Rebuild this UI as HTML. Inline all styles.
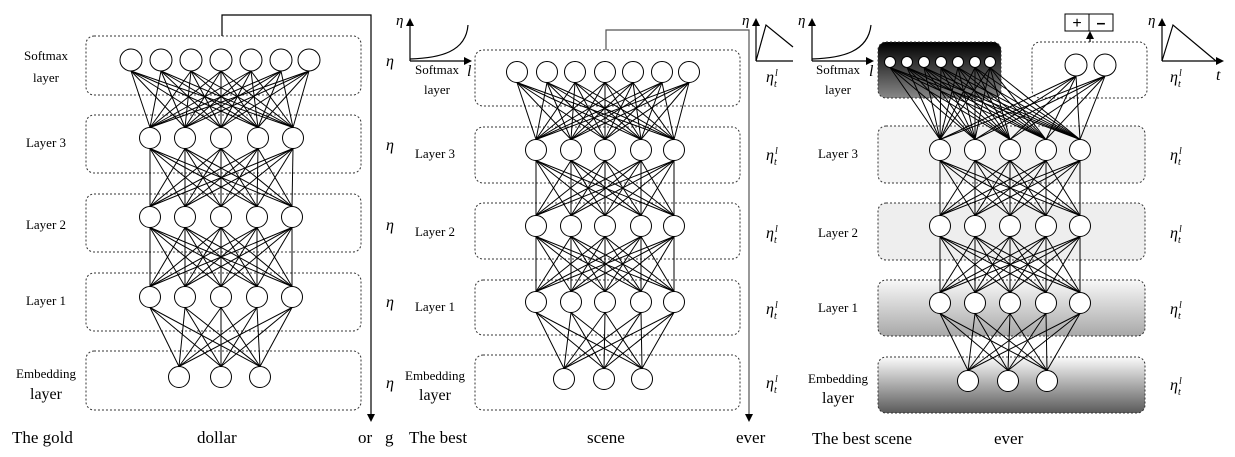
<!DOCTYPE html>
<html><head><meta charset="utf-8">
<style>
html,body{margin:0;padding:0;background:#fff;}
svg{display:block;font-family:"Liberation Serif",serif;}
</style></head>
<body>
<svg id="s" width="1235" height="457" viewBox="0 0 1235 457" xmlns="http://www.w3.org/2000/svg">
<defs>
<marker id="ar" markerWidth="8" markerHeight="8" refX="4" refY="4" orient="auto" markerUnits="userSpaceOnUse"><path d="M0,0 L8,4 L0,8 z" fill="#000"/></marker>
<linearGradient id="gDark" x1="0" y1="0" x2="0" y2="1"><stop offset="0" stop-color="#000"/><stop offset="1" stop-color="#888"/></linearGradient>
<linearGradient id="g1" x1="0" y1="0" x2="0" y2="1"><stop offset="0" stop-color="#f8f8f8"/><stop offset="1" stop-color="#a8a8a8"/></linearGradient>
<linearGradient id="gE" x1="0" y1="0" x2="0" y2="1"><stop offset="0" stop-color="#fbfbfb"/><stop offset="1" stop-color="#5a5a5a"/></linearGradient>
</defs>
<g id="boxes"></g>
<g id="lines" stroke="#000" stroke-width="1"></g>
<g id="nodes"></g>
<g id="misc" fill="none" stroke="#000" stroke-width="1.2">
  <polyline points="222,36 222,15 371,15 371,418" marker-end="url(#ar)"/>
  <polyline points="606,50 606,30 749,30 749,418" stroke="#555" marker-end="url(#ar)"/>
  <line x1="410" y1="61" x2="410" y2="22" marker-end="url(#ar)"/>
  <line x1="410" y1="61" x2="468" y2="61" marker-end="url(#ar)"/>
  <path d="M410,59 C440,58 466,52 468,25"/>
  <line x1="756" y1="61" x2="756" y2="22" marker-end="url(#ar)"/>
  <line x1="756" y1="61" x2="793" y2="61"/>
  <polyline points="756,61 766,25 793,47"/>
  <line x1="812" y1="61" x2="812" y2="22" marker-end="url(#ar)"/>
  <line x1="812" y1="61" x2="870" y2="61" marker-end="url(#ar)"/>
  <path d="M812,59 C842,58 868,52 871,25"/>
  <line x1="1162" y1="61" x2="1162" y2="22" marker-end="url(#ar)"/>
  <line x1="1162" y1="61" x2="1220" y2="61" marker-end="url(#ar)"/>
  <polyline points="1162,61 1173,25 1216,61"/>
  <rect x="1065" y="14" width="48" height="17" stroke-width="1"/>
  <line x1="1089" y1="14" x2="1089" y2="31" stroke-width="1"/>
  <line x1="1090" y1="42" x2="1090" y2="35" marker-end="url(#ar)"/>
</g>
<g font-size="14" fill="#000">
  <text x="1077" y="28" font-size="16" font-family="Liberation Sans,sans-serif" text-anchor="middle">+</text>
  <text x="1101" y="28" font-size="16" font-weight="bold" font-family="Liberation Sans,sans-serif" text-anchor="middle">–</text>
</g>
<g font-size="14" fill="#000" text-anchor="middle">
  <text x="46" y="60" font-size="13">Softmax</text>
  <text x="46" y="82" font-size="13">layer</text>
  <text x="46" y="147" font-size="13">Layer 3</text>
  <text x="46" y="229" font-size="13">Layer 2</text>
  <text x="46" y="305" font-size="13">Layer 1</text>
  <text x="46" y="378" font-size="13">Embedding</text>
  <text x="46" y="399" font-size="16">layer</text>
  <text x="437" y="74" font-size="13">Softmax</text>
  <text x="437" y="94" font-size="13">layer</text>
  <text x="435" y="158" font-size="13">Layer 3</text>
  <text x="435" y="236" font-size="13">Layer 2</text>
  <text x="435" y="311" font-size="13">Layer 1</text>
  <text x="435" y="380" font-size="13">Embedding</text>
  <text x="435" y="400" font-size="16">layer</text>
  <text x="838" y="74" font-size="13">Softmax</text>
  <text x="838" y="94" font-size="13">layer</text>
  <text x="838" y="158" font-size="13">Layer 3</text>
  <text x="838" y="237" font-size="13">Layer 2</text>
  <text x="838" y="312" font-size="13">Layer 1</text>
  <text x="838" y="383" font-size="13">Embedding</text>
  <text x="838" y="403" font-size="16">layer</text>
</g>
<g font-size="16" fill="#000" font-style="italic">
  <text x="386" y="66">η</text><text x="386" y="150">η</text><text x="386" y="230">η</text><text x="386" y="307">η</text><text x="386" y="388">η</text>
  <text x="396" y="25" font-size="15">η</text><text x="742" y="25" font-size="15">η</text><text x="798" y="25" font-size="15">η</text><text x="1148" y="25" font-size="15">η</text>
  <text x="467" y="76">l</text><text x="869" y="76">l</text><text x="1216" y="80">t</text>
  <g id="etas"></g>
</g>
<g font-size="17" fill="#000">
  <text x="12" y="443">The gold</text>
  <text x="197" y="443">dollar</text>
  <text x="358" y="443">or</text>
  <text x="385" y="443">g</text>
  <text x="409" y="443">The best</text>
  <text x="587" y="443">scene</text>
  <text x="736" y="443">ever</text>
  <text x="812" y="444">The best scene</text>
  <text x="994" y="444">ever</text>
</g>
</svg>
<script>
var NS="http://www.w3.org/2000/svg";
function el(p,t,a){var e=document.createElementNS(NS,t);for(var k in a)e.setAttribute(k,a[k]);document.getElementById(p).appendChild(e);return e;}
function box(x1,y1,x2,y2,fill){el("boxes","rect",{x:x1,y:y1,width:x2-x1,height:y2-y1,rx:8,ry:8,fill:fill||"none",stroke:"#333","stroke-width":1,"stroke-dasharray":"2,2"});}
function layer(xs,y,r){return xs.map(function(x){return{x:x,y:y,r:r};});}
function connect(a,b){a.forEach(function(p){b.forEach(function(q){el("lines","line",{x1:p.x,y1:p.y+p.r,x2:q.x,y2:q.y-q.r});});});}
function nodes(L){L.forEach(function(n){el("nodes","circle",{cx:n.x,cy:n.y,r:n.r,fill:"#fff",stroke:"#000","stroke-width":1});});}
box(86,36,361,95);box(86,115,361,173);box(86,194,361,252);box(86,273,361,331);box(86,351,361,410);
var a=[layer([131,161,191,221,251,281,309],60,11),layer([150,185,221,258,293],138,10.5),layer([150,185,221,257,292],217,10.5),layer([150,185,221,257,292],297,10.5),layer([179,221,260],377,10.5)];
for(var i=0;i<4;i++)connect(a[i],a[i+1]);a.forEach(nodes);
box(475,50,740,106);box(475,127,740,183);box(475,203,740,259);box(475,280,740,335);box(475,355,740,410);
var b=[layer([517,547,575,605,633,662,689],72,10.5),layer([536,571,605,641,674],150,10.5),layer([536,571,605,641,674],226,10.5),layer([536,571,605,641,674],302,10.5),layer([564,604,642],379,10.5)];
for(var i=0;i<4;i++)connect(b[i],b[i+1]);b.forEach(nodes);
el("boxes","rect",{x:878,y:42,width:123,height:56,rx:8,ry:8,fill:"url(#gDark)",stroke:"#333","stroke-width":1,"stroke-dasharray":"2,2"});
box(1032,42,1147,98);box(878,126,1145,183,"#f3f3f3");box(878,203,1145,260,"#eeeeee");box(878,280,1145,336,"url(#g1)");box(878,357,1145,413,"url(#gE)");
var sm=layer([890,907,924,941,958,975,990],62,5.5),rt=layer([1076,1105],65,11);
var c=[layer([940,975,1010,1046,1080],150,10.5),layer([940,975,1010,1046,1080],226,10.5),layer([940,975,1010,1046,1080],303,10.5),layer([968,1008,1047],381,10.5)];
connect(sm,c[0]);connect(rt,c[0]);for(var i=0;i<3;i++)connect(c[i],c[i+1]);
nodes(sm);nodes(rt);c.forEach(nodes);
function eta(x,y){var t=el("etas","text",{x:x,y:y});t.textContent="η";var s=el("etas","text",{x:x+8,y:y+5,"font-size":10});s.textContent="t";var u=el("etas","text",{x:x+9,y:y-6,"font-size":10});u.textContent="l";}
[82,160,238,314,388].forEach(function(y){eta(766,y);});
[82,160,238,314,390].forEach(function(y){eta(1170,y);});
</script>
</body></html>
